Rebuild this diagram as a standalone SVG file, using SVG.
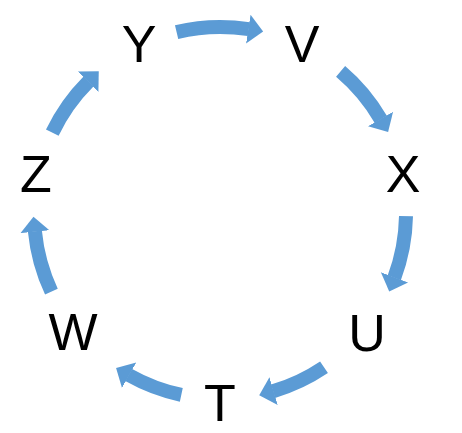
<svg xmlns="http://www.w3.org/2000/svg" width="462" height="433" viewBox="0 0 462 433">
  <defs>
    <marker id="head" markerUnits="userSpaceOnUse" markerWidth="20" markerHeight="32" viewBox="0 -16 20 32" refX="0.5" refY="0" orient="auto">
      <path d="M0,-14.5 L15,0 L0,14.5 Z" fill="#5B9BD5"/>
    </marker>
  </defs>
  <style>
    .lbl { font-family: "Liberation Sans", Arial, sans-serif; font-size: 52px; fill: #000; text-anchor: middle; }
    .arr { fill: none; stroke: #5B9BD5; stroke-width: 14; stroke-linecap: butt; marker-end: url(#head); }
  </style>
  <rect width="462" height="433" fill="#fff"/>
  <g id="connectors">
    <path class="arr" d="M176.6,32.1 A186,186 0 0 1 248.8,29.2"/>
    <path class="arr" d="M340.6,71.4 A186,186 0 0 1 380.8,119.4"/>
    <path class="arr" d="M406.0,216.2 A186,186 0 0 1 394.3,277.8"/>
    <path class="arr" d="M324.0,367.2 A186,186 0 0 1 273.1,391.2"/>
    <path class="arr" d="M181.3,394.9 A186,186 0 0 1 128.7,375.0"/>
    <path class="arr" d="M51.4,291.6 A186,186 0 0 1 34.9,231.2"/>
    <path class="arr" d="M52.3,132.6 A186,186 0 0 1 88.5,81.5"/>
  </g>
  <g id="node-Y"><text class="lbl" x="139" y="62">Y</text></g>
  <g id="node-V"><text class="lbl" x="302" y="62">V</text></g>
  <g id="node-X"><text class="lbl" x="403" y="192">X</text></g>
  <g id="node-U"><text class="lbl" x="367" y="351">U</text></g>
  <g id="node-T"><text class="lbl" x="220" y="421">T</text></g>
  <g id="node-W"><text class="lbl" x="73" y="350">W</text></g>
  <g id="node-Z"><text class="lbl" x="36" y="192">Z</text></g>
</svg>
